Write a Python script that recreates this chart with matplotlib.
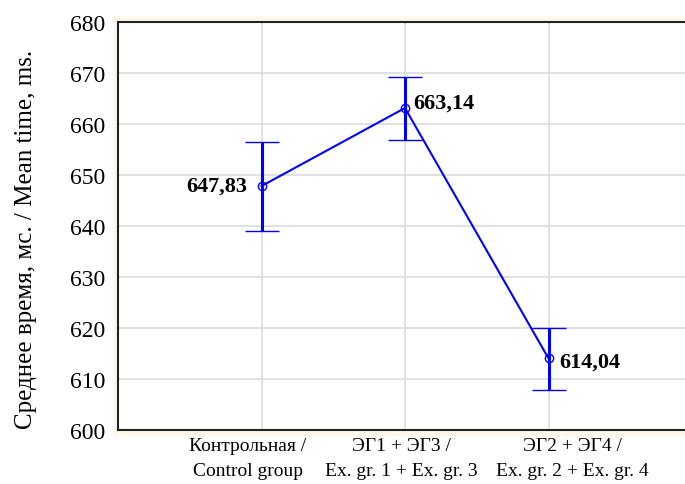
import matplotlib
matplotlib.use("Agg")
import matplotlib.pyplot as plt
from matplotlib.patches import Rectangle
from matplotlib.transforms import ScaledTranslation

categories = ["Контрольная /\nControl group", "ЭГ1 + ЭГ3 /\nEx. gr. 1 + Ex. gr. 3", "ЭГ2 + ЭГ4 /\nEx. gr. 2 + Ex. gr. 4"]
means = [647.83, 663.14, 614.04]
err_low = [8.8, 6.3, 6.2]
err_high = [8.7, 6.1, 6.0]
labels = ["647,83", "663,14", "614,04"]
yticks = [600, 610, 620, 630, 640, 650, 660, 670, 680]

plt.rcParams['font.family'] = ['Liberation Serif', 'DejaVu Serif']

fig = plt.figure(figsize=(6.85, 4.85), dpi=100)
fig.patches.append(Rectangle((113/685, 1-438/485), 1, (438-17)/485, transform=fig.transFigure,
                             facecolor='#fdf8ec', edgecolor='none', zorder=-5))
ax = fig.add_axes([118/685, 1-431/485, 574/685, 408/485])
ax.set_facecolor('white')
ax.set_zorder(2)

x = [1, 2, 3]
ax.errorbar(x, means, yerr=[err_low, err_high], color='#0000ff', lw=1.5, marker='o',
            markersize=6, markerfacecolor='none', markeredgewidth=1.0,
            ecolor='#0000ff', elinewidth=2.2, capsize=12, capthick=2.5, zorder=3)

ax.annotate(labels[0], (1, means[0]), xytext=(-10, 0), textcoords='offset points',
            ha='right', va='center', fontsize=16, fontweight='bold')
ax.annotate(labels[1], (2, means[1]), xytext=(6, 4), textcoords='offset points',
            ha='left', va='center', fontsize=16, fontweight='bold')
ax.annotate(labels[2], (3, means[2]), xytext=(8, -2), textcoords='offset points',
            ha='left', va='center', fontsize=16, fontweight='bold')

ax.set_xlim(0, 4)
ax.set_ylim(600, 680)
ax.set_yticks(yticks)
ax.set_xticks(x)
ax.set_xticklabels([])
label_shift_px = [-13.5, -4, 23.5]
for xi, cat, dx in zip(x, categories, label_shift_px):
    tr = ax.get_xaxis_transform() + ScaledTranslation(dx / 100, -7 / 100, fig.dpi_scale_trans)
    ax.text(xi, 0, cat, transform=tr, ha='center', va='top', fontsize=14,
            linespacing=1.6, clip_on=False)
ax.tick_params(axis='y', labelsize=17, length=0, pad=9)
ax.tick_params(axis='x', length=0)
ax.grid(True, color='#dcdcdc', lw=1.2, zorder=0)
ax.set_axisbelow(True)
for s in ['left', 'bottom', 'top']:
    ax.spines[s].set_color('#222222')
    ax.spines[s].set_linewidth(1.5)
ax.spines['right'].set_visible(False)

ax.set_ylabel("Среднее время, мс. / Mean time, ms.", fontsize=18)
ax.yaxis.set_label_coords(-(118-37)/574, 0.47)

fig.savefig("out.png", dpi=100)
